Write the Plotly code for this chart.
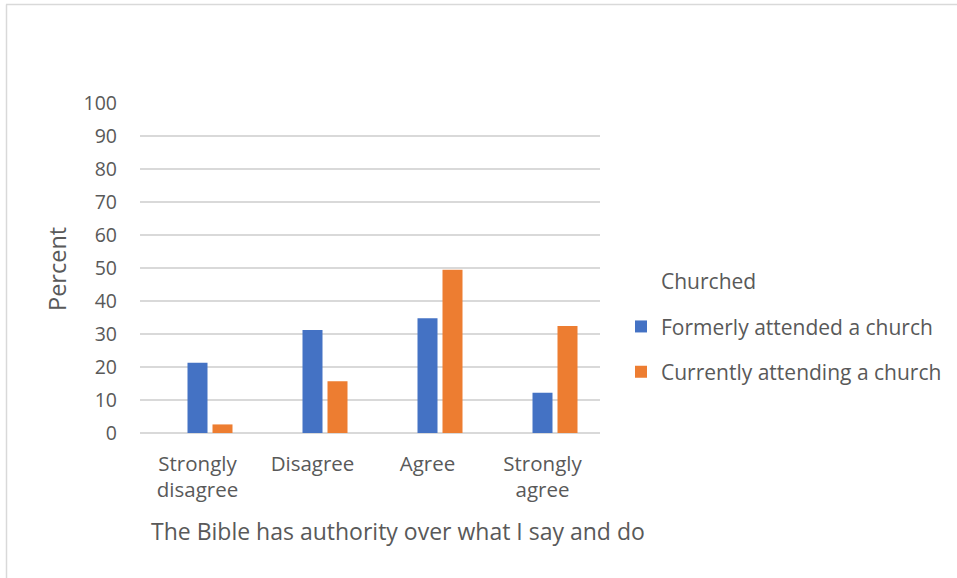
import plotly.graph_objects as go

categories = ["Strongly<br>disagree", "Disagree", "Agree", "Strongly<br>agree"]
series_names = ["Churched", "Formerly attended a church", "Currently attending a church"]
churched = [None, None, None, None]
formerly = [21.3, 31.2, 34.8, 12.2]
currently = [2.6, 15.7, 49.5, 32.4]
y_ticks = list(range(0, 101, 10))

FONT = "Open Sans"
TXT = "#595959"
GRID = "#d9d9d9"

W, H = 957, 578
L, R, T, B = 140, 357, 103, 145

def px_x(p):
    return (p - L) / (W - L - R)

def px_y(p):
    return (H - B - p) / (H - T - B)

fig = go.Figure()
fig.add_trace(go.Bar(x=categories, y=churched, name=series_names[0],
                     marker=dict(color="white", line=dict(width=0)), legendgroup="a"))
fig.add_trace(go.Bar(x=categories, y=formerly, name=series_names[1],
                     marker=dict(color="#4472C4", line=dict(width=0)), legendgroup="b"))
fig.add_trace(go.Bar(x=categories, y=currently, name=series_names[2],
                     marker=dict(color="#ED7D31", line=dict(width=0)), legendgroup="c"))

fig.update_layout(
    width=W, height=H,
    margin=dict(l=L, r=R, t=T, b=B, pad=0, autoexpand=False),
    paper_bgcolor="white", plot_bgcolor="white",
    barmode="group", bargap=40 / 115, bargroupgap=0.2,
    font=dict(family=FONT, size=20, color=TXT),
    showlegend=True,
    legend=dict(x=px_x(621), xanchor="left", y=px_y(261), yanchor="top",
                traceorder="grouped", tracegroupgap=15,
                font=dict(family=FONT, size=21, color=TXT),
                bgcolor="rgba(0,0,0,0)"),
    xaxis=dict(showgrid=False, showline=False, zeroline=False,
               tickfont=dict(family=FONT, size=20.5, color=TXT),
               ticklabelstandoff=16),
    yaxis=dict(range=[0, 100], tickvals=y_ticks, showgrid=True,
               gridcolor=GRID, gridwidth=1.5, zeroline=True,
               zerolinecolor=GRID, zerolinewidth=1.5, showline=False,
               tickfont=dict(family=FONT, size=19.5, color=TXT),
               ticklabelstandoff=22),
    annotations=[
        dict(text="Percent", xref="paper", yref="paper", x=px_x(57), y=px_y(269),
             showarrow=False, textangle=-90, xanchor="center", yanchor="middle",
             font=dict(family=FONT, size=23.5, color=TXT)),
        dict(text="The Bible has authority over what I say and do", xref="paper", yref="paper",
             x=px_x(398), y=px_y(531), showarrow=False, xanchor="center", yanchor="middle",
             font=dict(family=FONT, size=23, color=TXT)),
    ],
    shapes=[
        dict(type="line", xref="paper", yref="paper", x0=px_x(6), x1=px_x(960),
             y0=px_y(4.5), y1=px_y(4.5), line=dict(color=GRID, width=1.5)),
        dict(type="line", xref="paper", yref="paper", x0=px_x(6.5), x1=px_x(6.5),
             y0=px_y(4.5), y1=px_y(580), line=dict(color=GRID, width=1.5)),
    ],
)

fig.write_html("out.html")
